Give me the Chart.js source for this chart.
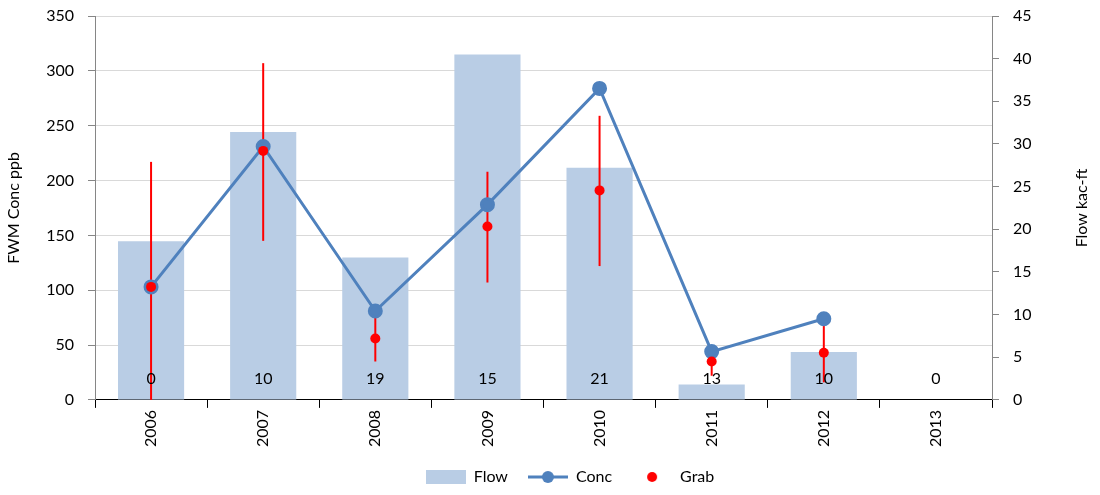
<!DOCTYPE html>
<html>
<head>
<meta charset="utf-8">
<script src="https://cdn.jsdelivr.net/npm/chart.js@4"></script>
<style>
  body { margin: 0; background: #fff; }
  #wrap { width: 1100px; height: 495px; }
</style>
</head>
<body>
<div id="wrap"><canvas id="stage"></canvas></div>
<script>
// 年ごとのデータ
const years = ['2006', '2007', '2008', '2009', '2010', '2011', '2012', '2013'];
const flow = [18.6, 31.4, 16.7, 40.5, 27.2, 1.8, 5.6, 0];
const conc = [103, 231, 81, 178, 284, 44, 74, null];
const grab = [103, 227, 56, 158, 191, 35, 43, null];
const grabLow = [0, 145, 35, 107, 122, 22, 16, null];
const grabHigh = [217, 307, 81, 208, 259, 42, 74, null];
const counts = [0, 10, 19, 15, 21, 13, 10, 0];

const FONT = 'Lato, "Open Sans", sans-serif';
Chart.defaults.font.family = FONT;
Chart.defaults.font.size = 16;
Chart.defaults.color = '#000';

// 凡例用のアイコン
function icon(draw) {
  const c = document.createElement('canvas');
  c.width = 40; c.height = 14;
  draw(c.getContext('2d'));
  return c;
}
const flowIcon = icon(g => { g.fillStyle = '#b9cde5'; g.fillRect(0, 0, 40, 14); });
const concIcon = icon(g => {
  g.strokeStyle = '#4f81bd'; g.lineWidth = 3;
  g.beginPath(); g.moveTo(0, 7); g.lineTo(40, 7); g.stroke();
  g.fillStyle = '#4f81bd'; g.beginPath(); g.arc(20, 7, 6, 0, Math.PI * 2); g.fill();
});
const grabIcon = icon(g => {
  g.fillStyle = '#ff0000'; g.beginPath(); g.arc(20, 7, 5, 0, Math.PI * 2); g.fill();
});

// エラーバー（Concの線より下に描く）
const errorBars = {
  id: 'errorBars',
  beforeDatasetDraw(chart, args) {
    if (args.index !== 1) return;
    const ctx = chart.ctx;
    const x = chart.scales.x, y = chart.scales.y;
    ctx.save();
    ctx.strokeStyle = '#ff0000';
    ctx.lineWidth = 2;
    for (let i = 0; i < years.length; i++) {
      if (grabLow[i] == null) continue;
      const px = x.getPixelForValue(i);
      ctx.beginPath();
      ctx.moveTo(px, y.getPixelForValue(grabLow[i]));
      ctx.lineTo(px, y.getPixelForValue(grabHigh[i]));
      ctx.stroke();
    }
    ctx.restore();
  }
};

function axisTitle(ctx, text, x, y) {
  ctx.save();
  ctx.font = '16px ' + FONT;
  ctx.fillStyle = '#000';
  ctx.textAlign = 'center';
  ctx.textBaseline = 'middle';
  ctx.translate(x, y);
  ctx.rotate(-Math.PI / 2);
  ctx.fillText(text, 0, 0);
  ctx.restore();
}

// 件数ラベルと軸タイトル
const extras = {
  id: 'extras',
  afterDatasetsDraw(chart) {
    const ctx = chart.ctx;
    const x = chart.scales.x, y = chart.scales.y;
    ctx.save();
    ctx.font = '16px ' + FONT;
    ctx.fillStyle = '#000';
    ctx.textAlign = 'center';
    ctx.textBaseline = 'middle';
    counts.forEach((c, i) => {
      ctx.fillText(String(c), x.getPixelForValue(i), y.bottom - 21);
    });
    ctx.restore();
  },
  afterDraw(chart) {
    const y = chart.scales.y;
    const mid = (y.top + y.bottom) / 2;
    axisTitle(chart.ctx, 'FWM Conc ppb', 14, mid);
    axisTitle(chart.ctx, 'Flow kac-ft', 1082, mid);
  }
};

const data = {
  labels: years,
  datasets: [{
    type: 'bar',
    label: 'Flow',
    data: flow,
    yAxisID: 'y1',
    backgroundColor: '#b9cde5',
    barPercentage: 0.59,
    categoryPercentage: 1,
    order: 3
  }, {
    type: 'line',
    label: 'Conc',
    data: conc,
    yAxisID: 'y',
    borderColor: '#4f81bd',
    backgroundColor: '#4f81bd',
    borderWidth: 3,
    pointRadius: 6,
    pointHoverRadius: 6,
    tension: 0,
    order: 2
  }, {
    type: 'line',
    label: 'Grab',
    data: grab,
    yAxisID: 'y',
    showLine: false,
    borderColor: '#ff0000',
    backgroundColor: '#ff0000',
    pointRadius: 5,
    pointBorderWidth: 0,
    order: 1
  }]
};

const icons = [flowIcon, concIcon, grabIcon];

// 縦軸の幅を固定し、上下の余白は layout.padding に任せる
function fixWidth(w) {
  return function (scale) {
    scale.width = w;
    scale.paddingTop = 0;
    scale.paddingBottom = 0;
  };
}

const config = {
  data: data,
  options: {
    responsive: true,
    maintainAspectRatio: false,
    animation: false,
    layout: { padding: { left: 40, right: 0, top: 16, bottom: 0 } },
    plugins: {
      tooltip: { enabled: false },
      legend: {
        position: 'bottom',
        labels: {
          usePointStyle: true,
          pointStyleWidth: 40,
          boxHeight: 14,
          padding: 20,
          generateLabels(chart) {
            return chart.data.datasets.map((ds, i) => ({
              text: ds.label,
              pointStyle: icons[i],
              datasetIndex: i,
              fontColor: '#000',
              lineWidth: 0,
              strokeStyle: 'transparent',
              fillStyle: 'transparent'
            }));
          }
        }
      }
    },
    scales: {
      x: {
        offset: true,
        grid: { offset: true, drawOnChartArea: false, tickLength: 8, color: '#000' },
        border: { color: '#000' },
        ticks: { minRotation: 90, maxRotation: 90, padding: 2 }
      },
      y: {
        position: 'left',
        min: 0,
        max: 350,
        ticks: { stepSize: 50, padding: 14 },
        grid: { color: '#d9d9d9', tickColor: '#868686', tickLength: 7 },
        border: { color: '#868686' },
        afterFit: fixWidth(55)
      },
      y1: {
        position: 'right',
        min: 0,
        max: 45,
        ticks: { stepSize: 5, padding: 14 },
        grid: { drawOnChartArea: false, tickColor: '#868686', tickLength: 7 },
        border: { color: '#868686' },
        afterFit: fixWidth(108)
      }
    }
  },
  plugins: [errorBars, extras]
};

const myChart = new Chart(document.getElementById('stage').getContext('2d'), config);
</script>
</body>
</html>
